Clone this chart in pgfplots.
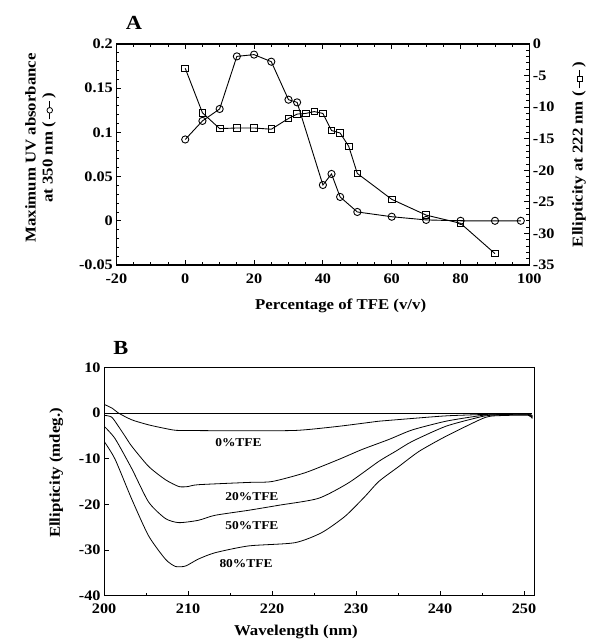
\documentclass[border=0pt]{standalone}
\usepackage{fontspec}
\setmainfont{Liberation Serif}[FakeStretch=1.12]
\usepackage{pgfplots}
\pgfplotsset{compat=1.18}
\newsavebox\circbox
\newsavebox\sqbox
\begin{document}
\sbox\circbox{\tikz[baseline=-0.6ex]{\draw[line width=0.8pt] (0,0)--(1.8em,0); \draw[line width=0.8pt, fill=white] (0.9em,0) circle (0.28em);}}
\sbox\sqbox{\tikz[baseline=-0.6ex]{\draw[line width=0.8pt] (0,0)--(1.8em,0); \draw[line width=0.8pt, fill=white] (0.65em,-0.25em) rectangle (1.15em,0.25em);}}
\pgfplotsset{
  every axis/.append style={
    /pgf/number format/assume math mode=true,
    scale only axis,
    anchor=south west,
    tick align=inside,
    axis line style={line width=1.1pt},
    major tick length=5pt,
    minor tick length=3pt,
    every tick/.style={black, line width=0.9pt},
    tick label style={font=\fontsize{14.5}{16}\selectfont\bfseries},
    label style={font=\fontsize{15}{17}\selectfont\bfseries},
  }
}
\begin{tikzpicture}
\path[use as bounding box] (0pt,0pt) rectangle (584pt,-644pt);
\node[font=\fontsize{20}{22}\selectfont\bfseries] at (125.5pt,-23pt) {A};
\node[font=\fontsize{20}{22}\selectfont\bfseries] at (112.5pt,-347.5pt) {B};
% Panel A, left axis (circles)
\begin{axis}[
  at={(108pt,-265pt)}, width=413pt, height=221pt,
  xmin=-20, xmax=100, ymin=-0.05, ymax=0.2,
  xtick={-20,0,20,40,60,80,100}, xticklabels={-20,0,20,40,60,80,100},
  xticklabel style={yshift=-5pt},
  minor x tick num=3,
  ytick={-0.05,0,0.05,0.1,0.15,0.2}, yticklabels={-0.05,0,0.05,0.1,0.15,0.2},
  minor y tick num=4,
  ytick pos=left,
  xlabel={Percentage of TFE (v/v)},
  xlabel style={at={(axis description cs:0.543,-0.184)}, anchor=center},
  ylabel={Maximum UV absorbance\\at 350 nm (\,\usebox\circbox\,)},
  ylabel style={at={(axis description cs:-0.184,0.53)}, anchor=center, align=center},
]
\addplot[black, line width=0.9pt, mark=o, mark size=3.6pt, mark options={line width=0.9pt, fill=white}] coordinates {
(0,0.092) (5,0.113) (10,0.1265) (15,0.186) (20,0.188) (25,0.180) (30,0.137) (32.5,0.134)
(40,0.0405) (42.5,0.053) (45,0.027) (50,0.010) (60,0.0046) (70,0.001) (80,0.0) (90,0.0) (97.5,0.0)
};
\end{axis}
% Panel A, right axis (squares)
\begin{axis}[
  at={(108pt,-265pt)}, width=413pt, height=221pt,
  xmin=-20, xmax=100, ymin=-35, ymax=0,
  axis y line*=right, axis x line=none,
  ytick={-35,-30,-25,-20,-15,-10,-5,0}, yticklabels={-35,-30,-25,-20,-15,-10,-5,0},
  minor y tick num=4,
  ylabel={Ellipticity at 222 nm (\,\usebox\sqbox\,)},
  ylabel style={at={(axis description cs:1.12,0.5)}, anchor=center},
]
\addplot[black, line width=0.9pt, mark=square, mark size=3.3pt, mark options={line width=0.9pt, fill=white}] coordinates {
(0,-3.85) (5,-10.9) (10,-13.4) (15,-13.3) (20,-13.3) (25,-13.5) (30,-11.8) (32.5,-11.1)
(35,-11.0) (37.5,-10.7) (40,-11.0) (42.5,-13.7) (45,-14.1) (47.5,-16.2) (50,-20.5)
(60,-24.6) (70,-27.1) (80,-28.4) (90,-33.2)
};
\end{axis}
% Panel B
\begin{axis}[
  at={(95.7pt,-595.7pt)}, width=430pt, height=228.4pt,
  xmin=200, xmax=251.2, ymin=-40, ymax=10,
  xtick={200,210,220,230,240,250}, xticklabels={200,210,220,230,240,250},
  xticklabel style={yshift=-5pt},
  minor x tick num=1,
  ytick={-40,-30,-20,-10,0,10}, yticklabels={-40,-30,-20,-10,0,10},
  xtick pos=bottom, ytick pos=left,
  xlabel={Wavelength (nm)},
  xlabel style={at={(axis description cs:0.446,-0.157)}, anchor=center},
  ylabel={Ellipticity (mdeg.)},
  ylabel style={at={(axis description cs:-0.111,0.537)}, anchor=center},
]
% baseline
\addplot[black, line width=0.9pt] coordinates {(200,0) (251,0)};
% 0% TFE
\addplot[black, line width=0.8pt, smooth, tension=0.4] coordinates {
(200,1.9) (201,1.0) (201.7,0) (203.3,-1.5) (205.3,-2.6) (207.3,-3.4) (208.6,-3.8)
(211,-3.85) (217,-3.9) (223,-3.8) (228,-2.9) (232.7,-1.8) (234,-1.6) (238.7,-0.9)
(241,-0.6) (244.7,-0.35) (248,-0.2) (250.5,-0.2) (251,-0.6)
};
% 20% TFE
\addplot[black, line width=0.8pt, smooth, tension=0.4] coordinates {
(200,-0.5) (200.9,-0.9) (201.7,-2.9) (202.5,-5.1) (203.3,-7.3) (205.3,-11.7) (207.3,-14.6)
(208.9,-16.1) (210,-16.1) (211.2,-15.7) (217.2,-15.2) (220,-15.0) (223.9,-13.1)
(227.9,-10.2) (230.7,-8.0) (233.9,-5.8) (236.7,-3.7) (240.7,-1.8) (244.7,-0.6)
(246,-0.4) (248.6,-0.3) (250.5,-0.3) (251,-0.8)
};
% 50% TFE
\addplot[black, line width=0.8pt, smooth, tension=0.4] coordinates {
(200,-2.9) (201.3,-5.6) (203.3,-12.2) (205.3,-19.5) (207.3,-23.1) (208.9,-24.0)
(211.2,-23.5) (213.2,-22.4) (217.2,-21.3) (220.8,-20.2) (225.5,-18.7) (229.1,-15.3)
(232.7,-10.6) (234.7,-8.4) (236.7,-6.2) (240.7,-2.9) (244.7,-0.9) (246,-0.5)
(248.6,-0.4) (250.5,-0.4) (251,-1.0)
};
% 80% TFE
\addplot[black, line width=0.8pt, smooth, tension=0.4] coordinates {
(200,-6.2) (201.3,-10.1) (203.3,-18.9) (205.3,-26.9) (207.3,-32.0) (208.5,-33.6)
(209.7,-33.5) (211.2,-32.0) (213.2,-30.6) (217.2,-29.1) (222.7,-28.4) (225.9,-26.2)
(228.7,-22.6) (231.1,-18.2) (232.7,-15.0) (235.1,-11.7) (237.5,-8.4) (240.7,-5.1)
(244.7,-1.5) (246,-0.7) (248.6,-0.5) (250.5,-0.5) (251,-1.2)
};
\node[font=\fontsize{12}{14}\selectfont\bfseries] at (axis cs:216.0,-6.4) {0\%TFE};
\node[font=\fontsize{12}{14}\selectfont\bfseries] at (axis cs:217.6,-18.3) {20\%TFE};
\node[font=\fontsize{12}{14}\selectfont\bfseries] at (axis cs:217.6,-24.7) {50\%TFE};
\node[font=\fontsize{12}{14}\selectfont\bfseries] at (axis cs:216.9,-32.9) {80\%TFE};
\end{axis}
\end{tikzpicture}
\end{document}
